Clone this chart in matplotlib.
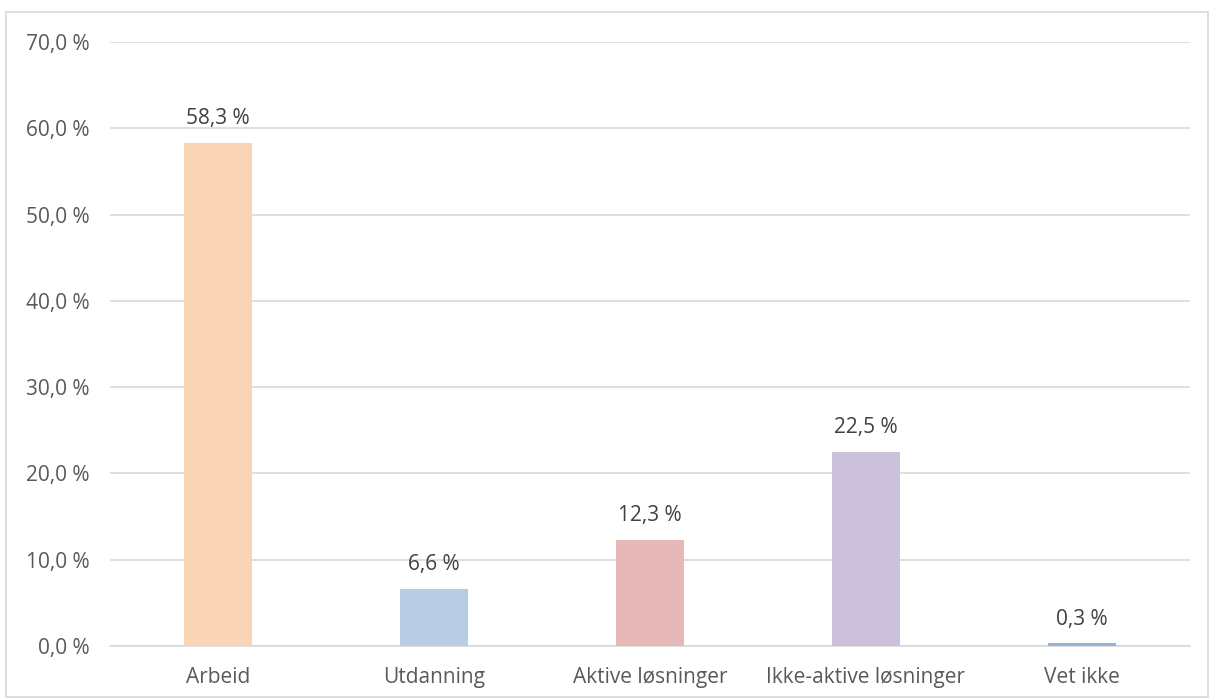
import matplotlib.pyplot as plt
import numpy as np
from matplotlib.patches import Rectangle

categories = ["Arbeid", "Utdanning", "Aktive løsninger", "Ikke-aktive løsninger", "Vet ikke"]
values = [58.3, 6.6, 12.3, 22.5, 0.3]
colors = ["#FAD5B5", "#B8CCE4", "#E6B8B7", "#CCC1DA", "#95B3D7"]
yticks = [0, 10, 20, 30, 40, 50, 60, 70]

plt.rcParams['font.family'] = ['Open Sans', 'DejaVu Sans']
text_color = "#595959"

fig = plt.figure(figsize=(12.13, 7.0), dpi=100)
ax = fig.add_axes([0.0907, 0.0771, 0.8903, 0.8629])

x = np.arange(len(categories))
ax.bar(x, values, width=0.315, color=colors, zorder=3)

for xi, v in zip(x, values):
    ax.annotate(f"{v:.1f} %".replace(".", ","), (xi, v), xytext=(0, 10),
                textcoords="offset points", ha="center", va="bottom",
                fontsize=15, color="#404040")

ax.set_xlim(-0.5, len(categories) - 0.5)
ax.set_ylim(0, 70)
ax.set_yticks(yticks)
ax.set_yticklabels([f"{t:.1f} %".replace(".", ",") for t in yticks])
ax.set_xticks(x)
ax.set_xticklabels(categories)
ax.tick_params(axis="both", length=0, labelsize=15, labelcolor=text_color)
ax.tick_params(axis="y", pad=15)
ax.tick_params(axis="x", pad=15)
ax.grid(axis="y", color="#D9D9D9", linewidth=1.2, zorder=0)
for side in ["top", "right", "left"]:
    ax.spines[side].set_visible(False)
ax.spines["bottom"].set_color("#D9D9D9")
ax.spines["bottom"].set_linewidth(1.2)

fig.patches.append(Rectangle((6 / 1213, 3 / 700), 1202 / 1213, 685 / 700,
                             transform=fig.transFigure, fill=False,
                             edgecolor="#D9D9D9", linewidth=1.2))

fig.savefig("out.png", dpi=100)
